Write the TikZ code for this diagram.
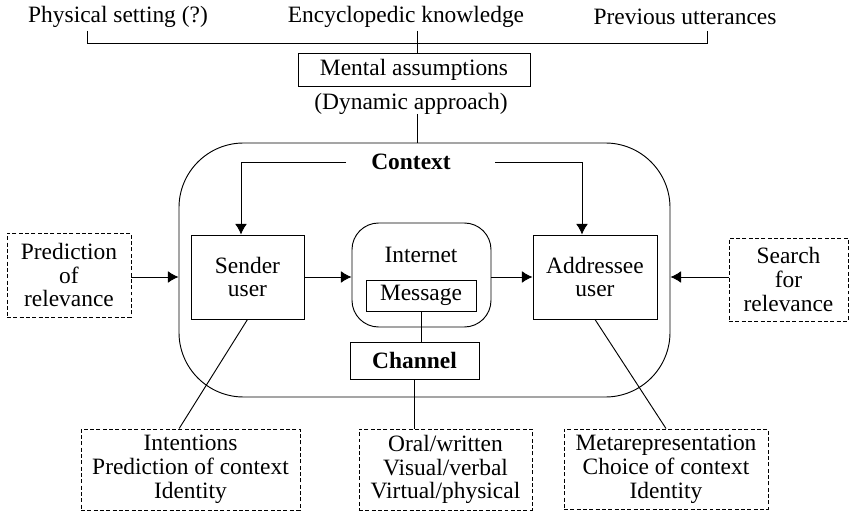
\documentclass[tikz,border=0pt]{standalone}
\usepackage{fontspec}
\setmainfont{Liberation Serif}
\usetikzlibrary{arrows.meta}

\tikzset{
 box/.style={draw, align=center, inner sep=0pt},
 dashbox/.style={draw, dash pattern=on 1.7pt off 1pt, align=center, inner sep=0pt},
 arr/.style={-{Latex[length=4.5pt,width=5pt]}},
}

\begin{document}
\begin{tikzpicture}[x=0.015cm,y=-0.015cm,font=\fontsize{10}{10.2}\selectfont]
\useasboundingbox (0,0) rectangle (849,512);
% top row
\node (physical) at (118,17) {Physical setting (?)};
\node (encyclopedic) at (406,17) {Encyclopedic knowledge};
\node (previous) at (685,17) {Previous utterances};
\coordinate (brl) at (87,31);
\coordinate (brr) at (707,31);
\coordinate (brm) at (417,31);
\draw (brl) -- ++(0,12) -- ++(620,0) -- (brr);
\node[box, minimum width=3.48cm, minimum height=0.495cm] (mental) at (414,69.5) {Mental assumptions};
\draw (brm) -- (brm |- mental.north);
\node (dynamic) at (411,104) {(Dynamic approach)};
% context box
\node[box, rounded corners=0.97cm, minimum width=7.365cm, minimum height=3.81cm] (ctxbox) at (424.5,270) {};
\coordinate (stem) at (417,114);
\draw (stem) -- (stem |- ctxbox.north);
\node[font=\fontsize{10}{10.2}\selectfont\bfseries] (context) at (411,162) {Context};
% inside
\node[box, minimum width=1.695cm, minimum height=1.26cm] (sender) at (247.5,277) {Sender\\user};
\node[box, minimum width=1.86cm, minimum height=1.26cm] (addressee) at (595,277) {Addressee\\user};
\node[box, rounded corners=0.4cm, minimum width=2.085cm, minimum height=1.56cm] (internet) at (421.5,275) {};
\node (internetlbl) at (421,255) {Internet};
\node[box, minimum width=1.65cm, minimum height=0.465cm] (message) at (421,295.5) {Message};
\node[box, minimum width=1.935cm, minimum height=0.555cm, font=\fontsize{10}{10.2}\selectfont\bfseries] (channel) at (414.5,360.5) {Channel};
\coordinate (ctxl) at (346,162);
\coordinate (ctxr) at (495,162);
\coordinate (sendin) at (241,162);
\coordinate (addin) at (582,162);
\draw[arr] (ctxl) -- (sendin) -- (sendin |- sender.north);
\draw[arr] (ctxr) -- (addin) -- (addin |- addressee.north);
\draw[arr] (sender.east) -- (internet.west |- sender.east);
\draw[arr] (internet.east |- addressee.west) -- (addressee.west);
\draw (message.south) -- (message.south |- channel.north);
% side boxes
\node[dashbox, minimum width=1.86cm, minimum height=1.26cm] (prediction) at (69,275) {Prediction\\of\\relevance};
\node[dashbox, minimum width=1.785cm, minimum height=1.245cm] (search) at (788.5,279.5) {Search\\for\\relevance};
\draw[arr] (prediction.east |- sender.west) -- (ctxbox.west |- sender.west);
\draw[arr] (search.west |- addressee.east) -- (ctxbox.east |- addressee.east);
% bottom boxes
\node[dashbox, minimum width=3.285cm, minimum height=1.215cm] (intentions) at (190.5,469.5) {Intentions\\Prediction of context\\Identity};
\node[dashbox, minimum width=2.595cm, minimum height=1.215cm] (media) at (445.5,469.5) {Oral/written\\Visual/verbal\\Virtual/physical};
\node[dashbox, minimum width=3.06cm, minimum height=1.2cm] (meta) at (666,469) {Metarepresentation\\Choice of context\\Identity};
\draw (sender.south) -- ([xshift=-0.17cm]intentions.north);
\draw (channel.south) -- (channel.south |- media.north);
\draw (addressee.south) -- (meta.north);
\end{tikzpicture}
\end{document}
